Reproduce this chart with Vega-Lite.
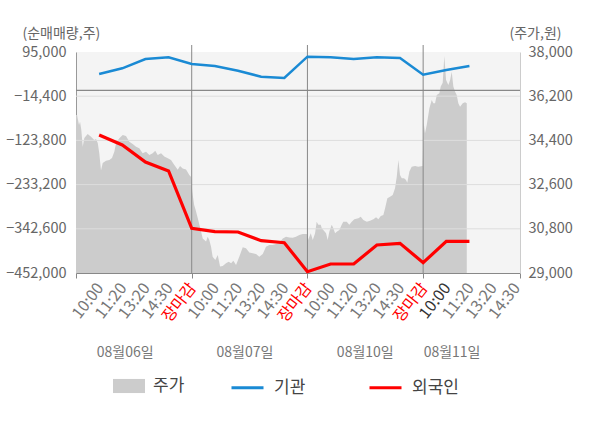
{
  "$schema": "https://vega.github.io/schema/vega-lite/v6.json",
  "width": 444,
  "height": 221,
  "autosize": {"type": "none"},
  "padding": {"left": 76, "top": 52, "right": 80, "bottom": 155},
  "config": {
    "font": "Noto Sans CJK KR",
    "view": {"fill": "#f4f4f4", "stroke": null}
  },
  "datasets": {
    "price": [
      {"t":0.000,"p":35430},{"t":0.009,"p":35430},{"t":0.026,"p":35030},{"t":0.035,"p":35160},{"t":0.046,"p":34820},{"t":0.058,"p":34140},{"t":0.072,"p":34500},{"t":0.101,"p":34660},{"t":0.130,"p":34550},{"t":0.158,"p":34420},{"t":0.173,"p":34460},{"t":0.188,"p":34290},{"t":0.201,"p":33890},{"t":0.216,"p":33170},{"t":0.231,"p":33480},{"t":0.259,"p":33570},{"t":0.288,"p":33600},{"t":0.311,"p":33680},{"t":0.331,"p":33940},{"t":0.346,"p":34280},{"t":0.374,"p":34490},{"t":0.404,"p":34620},{"t":0.432,"p":34580},{"t":0.461,"p":34350},{"t":0.490,"p":34250},{"t":0.519,"p":34140},{"t":0.547,"p":34080},{"t":0.576,"p":33880},{"t":0.605,"p":33940},{"t":0.634,"p":33810},{"t":0.663,"p":33880},{"t":0.685,"p":33980},{"t":0.706,"p":33810},{"t":0.735,"p":33880},{"t":0.763,"p":33740},{"t":0.793,"p":33670},{"t":0.821,"p":33600},{"t":0.850,"p":33400},{"t":0.879,"p":33200},{"t":0.899,"p":33360},{"t":0.922,"p":33260},{"t":0.951,"p":33220},{"t":0.979,"p":32990},{"t":0.995,"p":32910},
      {"t":1.005,"p":32310},{"t":1.021,"p":31770},{"t":1.034,"p":31570},{"t":1.049,"p":31290},{"t":1.078,"p":30750},{"t":1.095,"p":30410},{"t":1.124,"p":30280},{"t":1.138,"p":30480},{"t":1.152,"p":30340},{"t":1.167,"p":30070},{"t":1.181,"p":29660},{"t":1.204,"p":29530},{"t":1.225,"p":29730},{"t":1.245,"p":29260},{"t":1.268,"p":29290},{"t":1.296,"p":29400},{"t":1.320,"p":29460},{"t":1.340,"p":29400},{"t":1.360,"p":29500},{"t":1.383,"p":29330},{"t":1.411,"p":29660},{"t":1.441,"p":30050},{"t":1.469,"p":30010},{"t":1.498,"p":29830},{"t":1.527,"p":29800},{"t":1.556,"p":29770},{"t":1.584,"p":29660},{"t":1.614,"p":29770},{"t":1.642,"p":30070},{"t":1.671,"p":30140},{"t":1.700,"p":30140},{"t":1.729,"p":30180},{"t":1.757,"p":30210},{"t":1.787,"p":30410},{"t":1.815,"p":30480},{"t":1.844,"p":30450},{"t":1.873,"p":30440},{"t":1.901,"p":30480},{"t":1.930,"p":30550},{"t":1.959,"p":30590},{"t":1.995,"p":30590},
      {"t":2.005,"p":30340},{"t":2.029,"p":30620},{"t":2.046,"p":30340},{"t":2.066,"p":30620},{"t":2.080,"p":31090},{"t":2.094,"p":30960},{"t":2.115,"p":30960},{"t":2.124,"p":30820},{"t":2.143,"p":30720},{"t":2.161,"p":30620},{"t":2.175,"p":30340},{"t":2.189,"p":30680},{"t":2.210,"p":30960},{"t":2.224,"p":30820},{"t":2.239,"p":30620},{"t":2.253,"p":30680},{"t":2.276,"p":30750},{"t":2.296,"p":30960},{"t":2.310,"p":31090},{"t":2.340,"p":31090},{"t":2.362,"p":30960},{"t":2.383,"p":31090},{"t":2.405,"p":31190},{"t":2.440,"p":31230},{"t":2.461,"p":31290},{"t":2.483,"p":31160},{"t":2.513,"p":31090},{"t":2.541,"p":31130},{"t":2.570,"p":31190},{"t":2.593,"p":31270},{"t":2.613,"p":31190},{"t":2.634,"p":31320},{"t":2.656,"p":31360},{"t":2.671,"p":31640},{"t":2.691,"p":32040},{"t":2.714,"p":32110},{"t":2.737,"p":32180},{"t":2.757,"p":32450},{"t":2.772,"p":32920},{"t":2.786,"p":33600},{"t":2.800,"p":32990},{"t":2.815,"p":32860},{"t":2.835,"p":32860},{"t":2.852,"p":32790},{"t":2.863,"p":32680},{"t":2.881,"p":33130},{"t":2.901,"p":33330},{"t":2.930,"p":33360},{"t":2.958,"p":33330},{"t":2.995,"p":33360},
      {"t":3.005,"p":35100},{"t":3.016,"p":34690},{"t":3.031,"p":35030},{"t":3.054,"p":35710},{"t":3.074,"p":36050},{"t":3.088,"p":35910},{"t":3.103,"p":35910},{"t":3.118,"p":36250},{"t":3.140,"p":36320},{"t":3.152,"p":36590},{"t":3.169,"p":36750},{"t":3.183,"p":37840},{"t":3.198,"p":36860},{"t":3.218,"p":36660},{"t":3.233,"p":36860},{"t":3.247,"p":37200},{"t":3.261,"p":36590},{"t":3.276,"p":36380},{"t":3.290,"p":36250},{"t":3.304,"p":35910},{"t":3.319,"p":35770},{"t":3.342,"p":35910},{"t":3.362,"p":35950},{"t":3.377,"p":35910}
    ],
    "flow": [
      {"t":0.2,"v":40550,"s":"기관"},{"t":0.4,"v":54650,"s":"기관"},{"t":0.6,"v":77680,"s":"기관"},{"t":0.8,"v":81880,"s":"기관"},{"t":1.0,"v":65300,"s":"기관"},{"t":1.2,"v":60350,"s":"기관"},{"t":1.4,"v":48720,"s":"기관"},{"t":1.6,"v":33870,"s":"기관"},{"t":1.8,"v":30650,"s":"기관"},{"t":2.0,"v":83370,"s":"기관"},{"t":2.2,"v":81880,"s":"기관"},{"t":2.4,"v":77680,"s":"기관"},{"t":2.6,"v":81880,"s":"기관"},{"t":2.8,"v":80150,"s":"기관"},{"t":3.0,"v":38820,"s":"기관"},{"t":3.2,"v":50450,"s":"기관"},{"t":3.4,"v":60350,"s":"기관"},
      {"t":0.2,"v":-110430,"s":"외국인"},{"t":0.4,"v":-135180,"s":"외국인"},{"t":0.6,"v":-177260,"s":"외국인"},{"t":0.8,"v":-199540,"s":"외국인"},{"t":1.0,"v":-341360,"s":"외국인"},{"t":1.2,"v":-349780,"s":"외국인"},{"t":1.4,"v":-350520,"s":"외국인"},{"t":1.6,"v":-372060,"s":"외국인"},{"t":1.8,"v":-377000,"s":"외국인"},{"t":2.0,"v":-448780,"s":"외국인"},{"t":2.2,"v":-429720,"s":"외국인"},{"t":2.4,"v":-429720,"s":"외국인"},{"t":2.6,"v":-382700,"s":"외국인"},{"t":2.8,"v":-378490,"s":"외국인"},{"t":3.0,"v":-426500,"s":"외국인"},{"t":3.2,"v":-373540,"s":"외국인"},{"t":3.4,"v":-373540,"s":"외국인"}
    ],
    "grid": [{"v":-14400},{"v":-123800},{"v":-233200},{"v":-342600}],
    "zero": [{"v":0}],
    "days": [{"t":1},{"t":2},{"t":3}],
    "timeLabels": [
      {"t":0.2,"label":"10:00"},{"t":0.4,"label":"11:20"},{"t":0.6,"label":"13:20"},{"t":0.8,"label":"14:30"},{"t":1.0,"label":"장마감"},
      {"t":1.2,"label":"10:00"},{"t":1.4,"label":"11:20"},{"t":1.6,"label":"13:20"},{"t":1.8,"label":"14:30"},{"t":2.0,"label":"장마감"},
      {"t":2.2,"label":"10:00"},{"t":2.4,"label":"11:20"},{"t":2.6,"label":"13:20"},{"t":2.8,"label":"14:30"},{"t":3.0,"label":"장마감"},
      {"t":3.2,"label":"10:00"},{"t":3.4,"label":"11:20"},{"t":3.6,"label":"13:20"},{"t":3.8,"label":"14:30"}
    ],
    "dayLabels": [
      {"t":0.425,"label":"08월06일"},{"t":1.46,"label":"08월07일"},{"t":2.5,"label":"08월10일"},{"t":3.25,"label":"08월11일"}
    ]
  },
  "layer": [
    {
      "data": {"name": "price"},
      "mark": {"type": "area", "color": "#cccccc"},
      "encoding": {
        "x": {
          "field": "t", "type": "quantitative", "title": null,
          "scale": {"domain": [0, 3.837], "nice": false, "zero": false},
          "axis": {
            "orient": "bottom",
            "values": [0, 1, 2, 3, 3.837],
            "labels": false,
            "tickColor": "#888888",
            "tickSize": 5,
            "domainColor": "#888888",
            "grid": false
          }
        },
        "y": {
          "field": "p", "type": "quantitative",
          "scale": {"domain": [29000, 38000], "nice": false, "zero": false},
          "axis": {
            "orient": "right",
            "values": [29000, 30800, 32600, 34400, 36200, 38000],
            "format": ",d",
            "labelFontSize": 14.5,
            "labelColor": "#666666",
            "labelPadding": 8,
            "labelFlush": false,
            "ticks": false,
            "grid": false,
            "domainColor": "#cccccc",
            "title": "(주가,원)",
            "titleAngle": 0,
            "titleAlign": "left",
            "titleBaseline": "middle",
            "titleX": -11,
            "titleY": -19,
            "titleFontSize": 14,
            "titleFontWeight": "normal",
            "titleColor": "#666666"
          }
        },
        "y2": {"datum": 29000},
        "fill": {
          "datum": "주가",
          "scale": {"domain": ["주가"], "range": ["#cccccc"]},
          "legend": {
            "orient": "none", "legendX": 37, "legendY": 318, "title": null,
            "symbolType": "M-1,-0.44H1V0.44H-1Z", "symbolSize": 1024, "symbolStrokeWidth": 0,
            "labelFontSize": 17, "labelColor": "#444444", "labelOffset": 8
          }
        }
      }
    },
    {
      "layer": [
        {
          "data": {"name": "grid"},
          "mark": {"type": "rule", "color": "#dddddd", "strokeWidth": 1},
          "encoding": {
            "y": {
              "field": "v", "type": "quantitative",
              "scale": {"domain": [-452000, 95000], "nice": false, "zero": false},
              "axis": {
                "orient": "left",
                "values": [-452000, -342600, -233200, -123800, -14400, 95000],
                "format": ",d",
                "labelFontSize": 14.5,
                "labelColor": "#666666",
                "labelPadding": 10,
                "labelFlush": false,
                "ticks": false,
                "grid": false,
                "domainColor": "#999999",
                "title": "(순매매량,주)",
                "titleAngle": 0,
                "titleAlign": "left",
                "titleBaseline": "middle",
                "titleX": -54,
                "titleY": -19,
                "titleFontSize": 14,
                "titleFontWeight": "normal",
                "titleColor": "#666666"
              }
            }
          }
        },
        {
          "data": {"name": "zero"},
          "mark": {"type": "rule", "color": "#888888", "strokeWidth": 1.3},
          "encoding": {
            "y": {"field": "v", "type": "quantitative"}
          }
        },
        {
          "data": {"name": "days"},
          "mark": {"type": "rule", "color": "#888888", "strokeWidth": 1},
          "encoding": {
            "x": {"field": "t", "type": "quantitative", "title": null},
            "y": {"datum": 112300},
            "y2": {"datum": -452000}
          }
        },
        {
          "data": {"name": "flow"},
          "mark": {"type": "line", "interpolate": "linear"},
          "encoding": {
            "x": {"field": "t", "type": "quantitative", "title": null},
            "y": {"field": "v", "type": "quantitative"},
            "stroke": {
              "field": "s", "type": "nominal",
              "scale": {"domain": ["기관", "외국인"], "range": ["#1a8ad4", "#ff0000"]},
              "legend": {
                "orient": "none", "legendX": 154, "legendY": 318, "title": null,
                "direction": "horizontal", "columnPadding": 57,
                "symbolType": "stroke", "symbolSize": 1024, "symbolStrokeWidth": 3,
                "labelFontSize": 17, "labelColor": "#444444", "labelOffset": 9
              }
            },
            "strokeWidth": {
              "condition": {"test": "datum.s === '외국인'", "value": 3.2},
              "value": 2.5
            }
          }
        },
        {
          "data": {"name": "timeLabels"},
          "mark": {"type": "text", "fontSize": 16, "angle": -52, "align": "right", "baseline": "middle", "dx": 2},
          "encoding": {
            "x": {"field": "t", "type": "quantitative", "title": null},
            "y": {"datum": -486000},
            "text": {"field": "label"},
            "color": {
              "condition": [
                {"test": "datum.label === '장마감'", "value": "#ff0000"},
                {"test": "datum.t === 3.2", "value": "#333333"}
              ],
              "value": "#777777"
            }
          }
        },
        {
          "data": {"name": "dayLabels"},
          "mark": {"type": "text", "fontSize": 14, "color": "#777777", "baseline": "middle", "align": "center"},
          "encoding": {
            "x": {"field": "t", "type": "quantitative", "title": null},
            "y": {"datum": -650000},
            "text": {"field": "label"}
          }
        }
      ]
    }
  ],
  "resolve": {"scale": {"y": "independent"}}
}
